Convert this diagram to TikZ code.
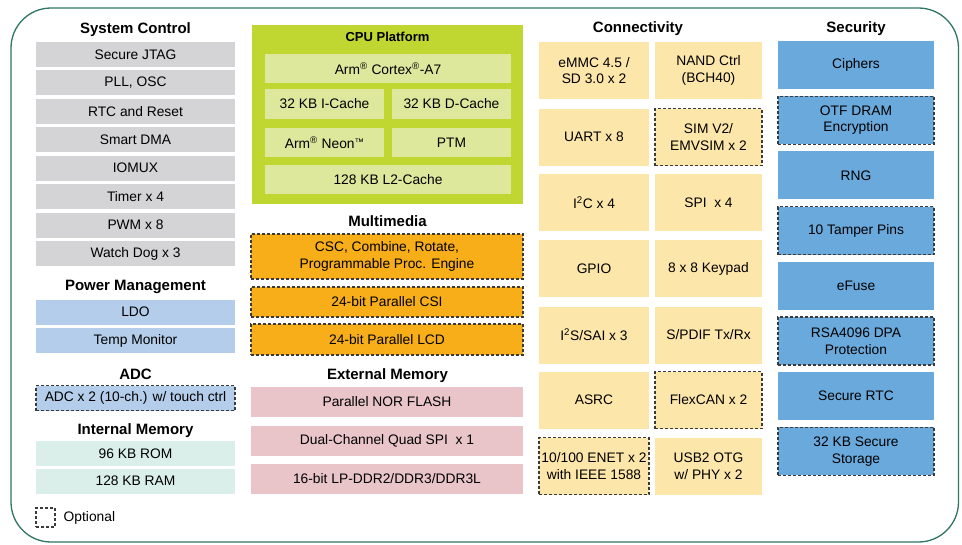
\documentclass[tikz,border=0pt]{standalone}
\usepackage{fontspec}
\setmainfont{Liberation Sans}
\definecolor{frame}{HTML}{2E7563}
\definecolor{sysgray}{HTML}{D4D4D6}
\definecolor{pwrblue}{HTML}{B4CDEA}
\definecolor{memteal}{HTML}{DAEFEA}
\definecolor{cpulime}{HTML}{BFD730}
\definecolor{cpuin}{HTML}{DEE89C}
\definecolor{mmorange}{HTML}{F8AE19}
\definecolor{extpink}{HTML}{E9C5CA}
\definecolor{conyel}{HTML}{FDE6A9}
\definecolor{secblue}{HTML}{6AA9DC}
\definecolor{optline}{HTML}{3A3A3A}
\begin{document}
\begin{tikzpicture}[x=1pt,y=-1pt,
  blk/.style={inner sep=0pt,align=center,font=\fontsize{13.8}{16.5}\selectfont},
  ttl/.style={inner sep=0pt,text height=10.7pt,text depth=0pt,font=\bfseries\fontsize{15}{17}\selectfont},
  opt/.style={draw=optline,line width=1.1pt,dash pattern=on 3pt off 2pt},
  sys/.style={blk,fill=sysgray,minimum width=199pt,minimum height=25pt},
  pwr/.style={blk,fill=pwrblue,minimum width=199pt,minimum height=25pt},
  imem/.style={blk,fill=memteal,minimum width=199pt,minimum height=25pt},
  cpu/.style={blk,fill=cpuin,minimum height=29.5pt},
  mm/.style={blk,fill=mmorange,opt,minimum width=272pt},
  ext/.style={blk,fill=extpink,minimum width=272pt,minimum height=30pt},
  con/.style={blk,fill=conyel,minimum height=57pt},
  sec/.style={blk,fill=secblue,minimum width=156pt,minimum height=48pt},
  secopt/.style={sec,opt}]
\useasboundingbox (0,0) rectangle (962,544);
\draw[frame,line width=1.3pt,rounded corners=40pt] (11,8) rectangle (958.5,542);
\node[ttl] (sysT) at (135.5,28) {System Control};
\foreach \t [count=\i from 0] in {Secure JTAG,{PLL, OSC},RTC and Reset,Smart DMA,IOMUX,Timer x 4,PWM x 8,Watch Dog x 3}
  \node[sys] (sys\i) at (135.5,{54.5+28.43*\i}) {\t};
\node[ttl] (pwrT) at (135.5,285) {Power Management};
\node[pwr] (ldo) at (135.5,312) {LDO};
\node[pwr] (temp) at (135.5,340.5) {Temp Monitor};
\node[ttl] (adcT) at (135.5,374) {ADC};
\node[pwr,opt] (adc) at (135.5,398) {ADC x 2 (10-ch.) w/ touch ctrl};
\node[ttl] (imemT) at (135.5,429) {Internal Memory};
\node[imem] (rom) at (135.5,453.5) {96 KB ROM};
\node[imem] (ram) at (135.5,481) {128 KB RAM};
\node[opt,minimum size=19pt,inner sep=0pt] (leg) at (45.5,517.5) {};
\node[blk,anchor=west] (legT) at (63.5,517.5) {Optional};
\node[fill=cpulime,minimum width=271pt,minimum height=179pt,inner sep=0pt] (cpuP) at (387.5,114.5) {};
\node[ttl,text height=9.3pt,font=\bfseries\fontsize{13}{15}\selectfont] (cpuT) at (387.5,37) {CPU Platform};
\node[cpu,minimum width=246pt] (a7) at (388,68.5) {Arm\textsuperscript{\textregistered} Cortex\textsuperscript{\textregistered}-A7};
\node[cpu,minimum width=119pt] (icache) at (324.5,104) {32 KB I-Cache};
\node[cpu,minimum width=119pt] (dcache) at (451.5,104) {32 KB D-Cache};
\node[cpu,minimum width=119pt] (neon) at (324.5,142.5) {Arm\textsuperscript{\textregistered} Neon{\fontsize{9.5}{10}\selectfont\raisebox{3pt}{\texttrademark}}};
\node[cpu,minimum width=119pt] (ptm) at (451.5,142.5) {PTM};
\node[cpu,minimum width=246pt] (l2) at (388,179.5) {128 KB L2-Cache};
\node[ttl] (mmT) at (387.5,221) {Multimedia};
\node[mm,minimum height=45pt] (csc) at (387,256.5) {CSC, Combine, Rotate,\\Programmable Proc. Engine};
\node[mm,minimum height=30pt] (csi) at (387,302) {24-bit Parallel CSI};
\node[mm,minimum height=31pt] (lcd) at (387,339.5) {24-bit Parallel LCD};
\node[ttl] (extT) at (387.5,374) {External Memory};
\node[ext] (nor) at (387,402) {Parallel NOR FLASH};
\node[ext] (qspi) at (387,440.5) {Dual-Channel Quad SPI\ \ x 1};
\node[ext] (ddr) at (387,479) {16-bit LP-DDR2/DDR3/DDR3L};
\node[ttl] (conT) at (638,27) {Connectivity};
\node[con,minimum width=110pt] (emmc) at (594,70.5) {eMMC 4.5 /\\SD 3.0 x 2};
\node[con,minimum width=107pt] (nand) at (708.5,70.5) {NAND Ctrl\\(BCH40)};
\node[con,minimum width=110pt] (uart) at (594,137) {UART x 8};
\node[con,opt,minimum width=107pt] (sim) at (708.5,137) {SIM V2/\\EMVSIM x 2};
\node[con,minimum width=110pt] (i2c) at (594,202.5) {I\textsuperscript{2}C x 4};
\node[con,minimum width=107pt] (spi) at (708.5,202.5) {SPI\ \ x 4};
\node[con,minimum width=110pt] (gpio) at (594,268.5) {GPIO};
\node[con,minimum width=107pt] (kpp) at (708.5,268.5) {8 x 8 Keypad};
\node[con,minimum width=110pt] (sai) at (594,335) {I\textsuperscript{2}S/SAI x 3};
\node[con,minimum width=107pt] (spdif) at (708.5,335) {S/PDIF Tx/Rx};
\node[con,minimum width=110pt] (asrc) at (594,400) {ASRC};
\node[con,opt,minimum width=107pt] (can) at (708.5,400) {FlexCAN x 2};
\node[con,opt,minimum width=110pt] (enet) at (594,466) {10/100 ENET x 2\\with IEEE 1588};
\node[con,minimum width=107pt] (usb) at (708.5,466) {USB2 OTG\\w/ PHY x 2};
\node[ttl] (secT) at (856,27) {Security};
\foreach \t/\s [count=\i from 0] in {Ciphers/sec,{OTF DRAM\\Encryption}/secopt,RNG/sec,10 Tamper Pins/secopt,eFuse/sec,{RSA4096 DPA\\Protection}/secopt,Secure RTC/sec,{32 KB Secure\\Storage}/secopt}
  \node[\s] (sec\i) at (856,{65+55.2*\i}) {\t};
\end{tikzpicture}
\end{document}
